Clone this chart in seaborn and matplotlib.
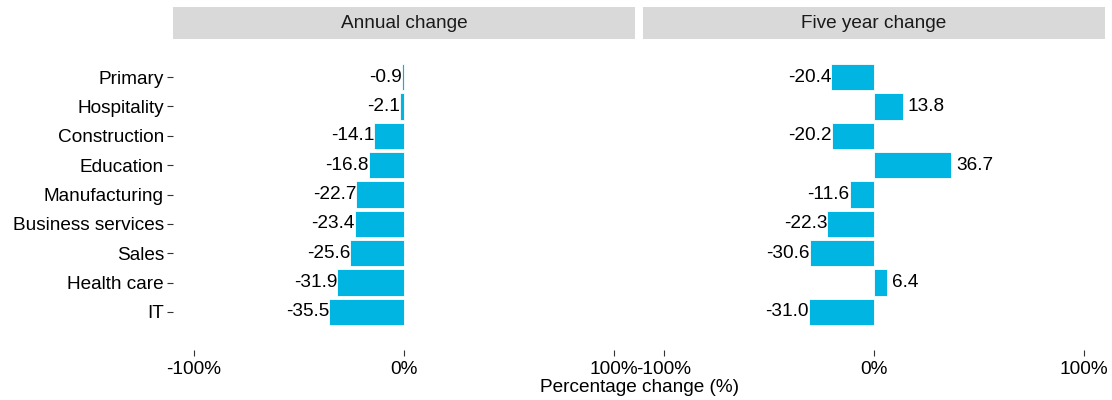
import matplotlib
matplotlib.use("Agg")
import matplotlib.pyplot as plt
from matplotlib.patches import Rectangle
import seaborn as sns
import pandas as pd

# Occupation groups, top to bottom
categories = ["Primary", "Hospitality", "Construction", "Education", "Manufacturing",
              "Business services", "Sales", "Health care", "IT"]
annual_change = [-0.9, -2.1, -14.1, -16.8, -22.7, -23.4, -25.6, -31.9, -35.5]
five_year_change = [-20.4, 13.8, -20.2, 36.7, -11.6, -22.3, -30.6, 6.4, -31.0]
panel_titles = ["Annual change", "Five year change"]
x_ticks = [-100, 0, 100]
x_tick_labels = ["-100%", "0%", "100%"]
x_label = "Percentage change (%)"

sns.set_theme(style="white")
plt.rcParams["font.family"] = ["Liberation Sans", "DejaVu Sans"]

BAR = "#00B5E2"
FS = 13.7
W, H = 1112, 400
fig = plt.figure(figsize=(W / 100, H / 100), dpi=100)

panels = [
    (annual_change, 173),
    (five_year_change, 643),
]
top_px, bottom_px = 39, 350
panel_w = 462
n = len(categories)

for i, ((vals, left_px), title) in enumerate(zip(panels, panel_titles)):
    ax = fig.add_axes([left_px / W, 1 - bottom_px / H, panel_w / W, (bottom_px - top_px) / H])
    df = pd.DataFrame({"category": categories, "value": vals})
    sns.barplot(data=df, x="value", y="category", order=categories, orient="h",
                color=BAR, saturation=1, width=0.9, edgecolor="white", linewidth=0.6, ax=ax)
    ax.set_xlim(-110, 110)
    ax.set_ylim(n - 1 + 1.3, -1.3)
    for s in ax.spines.values():
        s.set_visible(False)
    ax.set_xticks(x_ticks)
    ax.set_xticklabels(x_tick_labels)
    ax.tick_params(axis="x", length=4, width=0.8, color="#333333", pad=4,
                   labelsize=FS, labelcolor="black", bottom=True)
    if i == 0:
        ax.tick_params(axis="y", length=4, width=0.8, color="#333333", pad=2.5,
                       labelsize=FS, labelcolor="black", left=True)
    else:
        ax.tick_params(axis="y", left=False, labelleft=False)
    ax.set_ylabel("")
    ax.set_xlabel("")

    # value labels at the bar ends
    for j, v in enumerate(vals):
        if v < 0:
            ax.text(v, j, f"{v:.1f}", ha="right", va="center", fontsize=FS, color="black")
        else:
            ax.text(v + 2.3, j, f"{v:.1f}", ha="left", va="center", fontsize=FS, color="black")

    # facet strip
    strip_h = 32 / (bottom_px - top_px)
    ax.add_patch(Rectangle((0, 1), 1, strip_h, transform=ax.transAxes,
                           facecolor="#D9D9D9", edgecolor="none", clip_on=False))
    ax.text(0.5, 1 + strip_h / 2, title, transform=ax.transAxes, ha="center", va="center",
            fontsize=FS, color="#1A1A1A")

fig.text(639 / W, 1 - 387 / H, x_label, ha="center", va="center", fontsize=FS, color="black")

fig.savefig("out.png", dpi=100, facecolor="white")
